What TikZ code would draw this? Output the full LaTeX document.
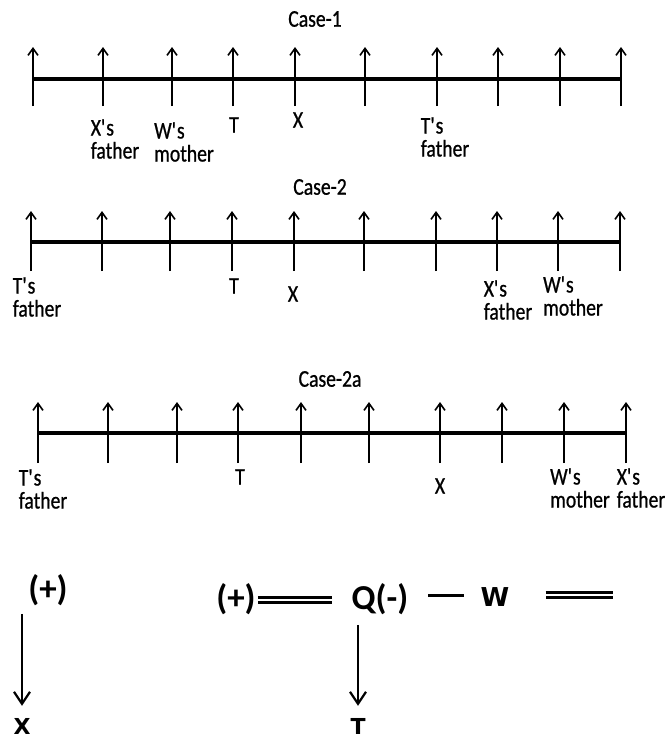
\documentclass[tikz,border=0pt]{standalone}
\usepackage{fontspec}
\usepackage{tikz}
\setmainfont{Carlito}
\newfontfamily\narrowfont{Carlito}[FakeStretch=0.82, FakeBold=0.8]
\newfontfamily\heavysans{DejaVu Sans}
\usetikzlibrary{arrows.meta}

\newcommand{\ap}{\textquotesingle}

\tikzset{
  tickarrow/.style={line width=1.6pt, -{Straight Barb[length=7pt,width=10pt,line width=1.6pt]}},
  axisline/.style={line width=3.2pt},
  casetitle/.style={font=\narrowfont\fontsize{24}{24}\selectfont, inner sep=0pt},
  person/.style={font=\narrowfont\fontsize{24}{23}\selectfont, align=left, inner sep=0pt},
  sign/.style={font=\bfseries\fontsize{35}{36}\selectfont, inner sep=0pt},
  letter/.style={font=\heavysans\bfseries\fontsize{22}{24}\selectfont, inner sep=0pt},
  downarrow/.style={line width=2.2pt, -{Straight Barb[length=12pt,width=16pt,line width=2.2pt]}},
  eqline/.style={double, double distance=2.6pt, line width=3pt},
  dashline/.style={line width=3pt}
}

\begin{document}
\begin{tikzpicture}[x=1pt, y=-1pt]
\useasboundingbox (0,0) rectangle (667,742);

% Case-1
\node[casetitle] (case1) at (315,19) {Case-1};
\foreach \x [count=\i] in {33,103,172,233,295,365,437,498,560,621}{
  \coordinate (a\i) at (\x,106);
  \coordinate (a\i-top) at (\x,47);
  \coordinate (a\i-m) at (\x,79);
  \draw[tickarrow] (a\i) -- (a\i-top);
}
\draw[axisline] (a1-m) -- (a10-m);
\node[person] (a-xf) at (115,139) {X\ap s\\father};
\node[person] (a-wm) at (184,142) {W\ap s\\mother};
\node[person] (a-t) at (234,125) {T};
\node[person] (a-x) at (298,120) {X};
\node[person] (a-tf) at (445,137) {T\ap s\\father};

% Case-2
\node[casetitle] (case2) at (320,187) {Case-2};
\foreach \x [count=\i] in {31,102,170,232,294,364,436,497,558,620}{
  \coordinate (b\i) at (\x,271);
  \coordinate (b\i-top) at (\x,211);
  \coordinate (b\i-m) at (\x,242);
  \draw[tickarrow] (b\i) -- (b\i-top);
}
\draw[axisline] (b1-m) -- (b10-m);
\node[person] (b-tf) at (37,297) {T\ap s\\father};
\node[person] (b-t) at (234,286) {T};
\node[person] (b-x) at (293,294) {X};
\node[person] (b-xf) at (508,300) {X\ap s\\father};
\node[person] (b-wm) at (573,296) {W\ap s\\mother};

% Case-2a
\node[casetitle] (case2a) at (330,379) {Case-2a};
\foreach \x [count=\i] in {38,108,177,238,301,369,440,502,564,626}{
  \coordinate (c\i) at (\x,463);
  \coordinate (c\i-top) at (\x,402);
  \coordinate (c\i-m) at (\x,433);
  \draw[tickarrow] (c\i) -- (c\i-top);
}
\draw[axisline] (c1-m) -- (c10-m);
\node[person] (c-tf) at (43,489) {T\ap s\\father};
\node[person] (c-t) at (240,477) {T};
\node[person] (c-x) at (440,486) {X};
\node[person] (c-wm) at (580,488) {W\ap s\\mother};
\node[person] (c-xf) at (641,488) {X\ap s\\father};

% bottom part
\node[sign] (plusA) at (48,590) {(+)};
\node[letter] (X) at (22,726) {X};
\draw[downarrow, shorten <=8pt, shorten >=12pt] (plusA.south -| X.north) -- (X.north);

\node[sign] (plusB) at (236,599) {(+)};
\node[sign] (Q) at (380,599) {Q(-)};
\node[letter, font=\heavysans\bfseries\fontsize{26}{28}\selectfont] (W) at (495,597) {W};
\coordinate (eqend) at (613,595);
\draw[eqline, shorten <=2pt, shorten >=20pt] (plusB.east |- 0,600) -- (Q.west |- 0,600);
\draw[dashline, shorten <=20pt, shorten >=16pt] (Q.east |- 0,595) -- (W.west |- 0,595);
\draw[eqline, shorten <=36pt] (W.east |- eqend) -- (eqend);

\node[letter] (T) at (358,726) {T};
\draw[downarrow, shorten <=10pt, shorten >=12pt] (Q.south -| T.north) -- (T.north);
\end{tikzpicture}
\end{document}
